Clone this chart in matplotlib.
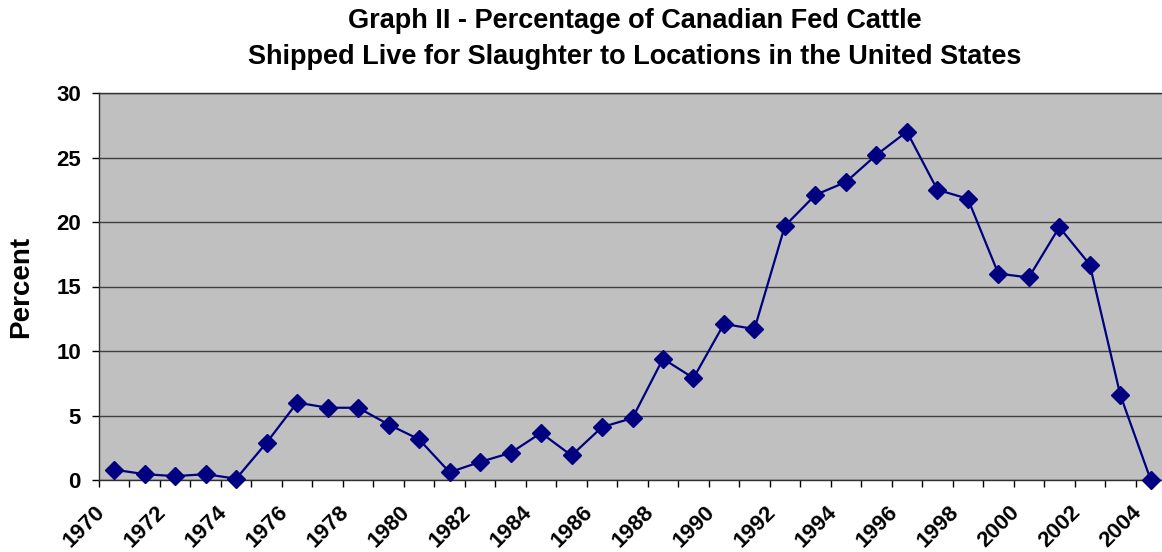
import matplotlib
matplotlib.use("Agg")
import matplotlib.pyplot as plt
import matplotlib.transforms as mtransforms
import numpy as np

plt.rcParams['font.family'] = ['Liberation Sans', 'DejaVu Sans']
plt.rcParams['font.weight'] = 'bold'

# percentage of Canadian fed cattle shipped live to the US, 1970-2004
years = list(range(1970, 2005))
percent = [0.8, 0.45, 0.3, 0.45, 0.1, 2.9, 6.0, 5.6, 5.6, 4.3,
           3.15, 0.6, 1.4, 2.1, 3.65, 1.9, 4.1, 4.8, 9.4, 7.9,
           12.1, 11.7, 19.7, 22.1, 23.1, 25.2, 27.0, 22.5, 21.8, 16.0,
           15.7, 19.6, 16.7, 6.6, 0.0]
label_years = years[::2]

title = "Graph II - Percentage of Canadian Fed Cattle\nShipped Live for Slaughter to Locations in the United States"

fig = plt.figure(figsize=(11.62, 5.52), dpi=100)
# plot area runs past the right edge, like the cropped original
ax = fig.add_axes([99 / 1162, 1 - 480 / 552, 1067 / 1162, 387 / 552])
ax.set_facecolor('#c0c0c0')

xpos = np.arange(len(years))
ax.plot(xpos, percent, color='#000080', lw=1.6, marker='D', ms=9,
        mfc='#000080', mec='#000080', zorder=3, clip_on=False)

ax.set_xlim(-0.5, len(years) - 0.5)
ax.set_ylim(0, 30)
ax.set_yticks(range(0, 31, 5))
ax.yaxis.grid(True, color='#404040', lw=1.0)
ax.set_axisbelow(True)

# ticks between categories, labels at every other category centre
ax.set_xticks(xpos[::2], [str(y) for y in label_years])
ax.set_xticks(np.arange(-0.5, len(years)), minor=True)
ax.tick_params(axis='x', which='major', length=0, pad=21, labelsize=16)
ax.tick_params(axis='x', which='minor', length=5, width=1, color='black', direction='out')
ax.tick_params(axis='y', length=5, width=1, direction='out', pad=8, labelsize=16)
offset = mtransforms.ScaledTranslation(-0.12, 0, fig.dpi_scale_trans)
for lab in ax.get_xticklabels():
    lab.set_rotation(45)
    lab.set_ha('right')
    lab.set_va('center')
    lab.set_rotation_mode('anchor')
    lab.set_transform(lab.get_transform() + offset)

for s in ['top', 'bottom', 'left', 'right']:
    ax.spines[s].set_color('#303030')
    ax.spines[s].set_linewidth(1.0)

ax.set_ylabel('Percent', fontsize=20, fontweight='bold', labelpad=16)
fig.text(0.546, 0.929, title, ha='center', va='center', fontsize=19.5,
         fontweight='bold', linespacing=1.5)

fig.savefig('out.png', dpi=100)
